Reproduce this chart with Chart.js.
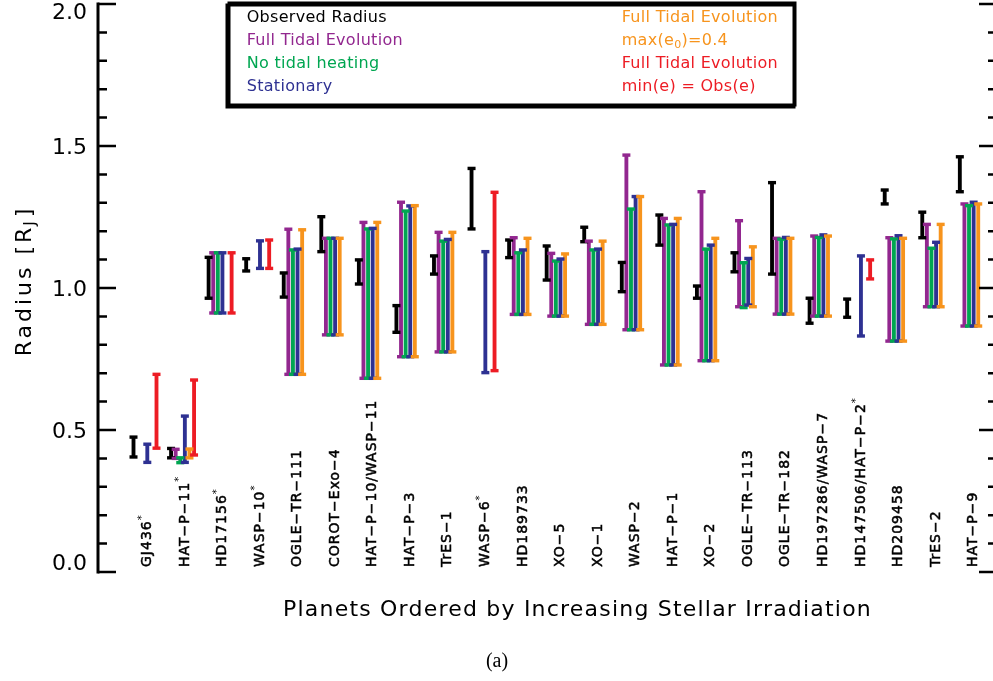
<!DOCTYPE html>
<html>
<head>
<meta charset="utf-8">
<script src="https://cdn.jsdelivr.net/npm/chart.js@4/dist/chart.umd.min.js"></script>
<style>
  html, body { margin: 0; padding: 0; background: #fff; }
  canvas { display: block; }
</style>
</head>
<body>
<canvas id="radiusChart" width="993" height="681"></canvas>
<script>
// Planets, left to right (a trailing * marks the starred names)
const planets = ['GJ436*', 'HAT-P-11*', 'HD17156*', 'WASP-10*', 'OGLE-TR-111', 'COROT-Exo-4',
  'HAT-P-10/WASP-11', 'HAT-P-3', 'TrES-1', 'WASP-6*', 'HD189733', 'XO-5', 'XO-1', 'WASP-2',
  'HAT-P-1', 'XO-2', 'OGLE-TR-113', 'OGLE-TR-182', 'HD197286/WASP-7', 'HD147506/HAT-P-2*',
  'HD209458', 'TrES-2', 'HAT-P-9'];

// radius ranges [low, high] in R_J, null = no bar
const observed = [[0.405, 0.475], [0.402, 0.435], [0.964, 1.108], [1.060, 1.103], [0.968, 1.053],
  [1.128, 1.251], [1.014, 1.099], [0.844, 0.938], [1.049, 1.113], [1.208, 1.421], [1.107, 1.169],
  [1.028, 1.148], [1.163, 1.214], [0.987, 1.090], [1.151, 1.257], [0.964, 1.007], [1.057, 1.124],
  [1.049, 1.371], [0.876, 0.964], [0.897, 0.961], [1.296, 1.345], [1.177, 1.267], [1.339, 1.462]];

const fullTidal = [null, [0.400, 0.432], [0.912, 1.124], null, [0.696, 1.207], [0.835, 1.175],
  [0.682, 1.231], [0.758, 1.302], [0.775, 1.196], null, [0.907, 1.177], [0.901, 1.122],
  [0.872, 1.165], [0.853, 1.468], [0.729, 1.245], [0.744, 1.339], [0.934, 1.237], [0.908, 1.175],
  [0.901, 1.183], null, [0.813, 1.177], [0.934, 1.224], [0.866, 1.296]];

const noHeating = [null, [0.385, 0.402], [0.912, 1.124], null, [0.696, 1.134], [0.835, 1.175],
  [0.682, 1.208], [0.758, 1.271], [0.775, 1.165], null, [0.907, 1.124], [0.901, 1.095],
  [0.872, 1.134], [0.853, 1.278], [0.729, 1.222], [0.744, 1.137], [0.931, 1.089], [0.908, 1.172],
  [0.901, 1.178], null, [0.813, 1.173], [0.934, 1.140], [0.866, 1.290]];

const stationary = [[0.386, 0.450], [0.386, 0.549], [0.912, 1.124], [1.069, 1.166], [0.696, 1.137],
  [0.835, 1.175], [0.682, 1.210], [0.758, 1.289], [0.775, 1.171], [0.702, 1.128], [0.907, 1.134],
  [0.901, 1.102], [0.872, 1.137], [0.853, 1.322], [0.729, 1.224], [0.744, 1.151], [0.940, 1.104],
  [0.908, 1.178], [0.901, 1.187], [0.831, 1.113], [0.813, 1.184], [0.934, 1.161], [0.866, 1.302]];

const maxEcc = [null, [0.402, 0.433], null, null, [0.696, 1.205], [0.835, 1.175], [0.682, 1.231],
  [0.758, 1.290], [0.775, 1.196], null, [0.907, 1.175], [0.901, 1.120], [0.872, 1.165],
  [0.853, 1.322], [0.729, 1.245], [0.744, 1.175], [0.934, 1.145], [0.908, 1.175], [0.901, 1.183],
  null, [0.813, 1.175], [0.934, 1.224], [0.866, 1.296]];

const minEcc = [[0.436, 0.696], [0.412, 0.676], [0.912, 1.124], [1.069, 1.169], null, null, null,
  null, null, [0.709, 1.337], null, null, null, null, null, null, null, null, null,
  [1.032, 1.099], null, null, null];

const yTicks = ['0.0', '0.5', '1.0', '1.5', '2.0'];

const colors = {
  black: '#000000', purple: '#92278F', green: '#00A651',
  blue: '#2E3192', orange: '#F7941D', red: '#ED1C24'
};

const FONT = '"DejaVu Sans", sans-serif';

function toPoints(arr) {
  return arr.map((r, i) => r ? { x: i, y: r } : null).filter(p => p);
}

function barSet(label, arr, color) {
  return {
    label: label,
    data: toPoints(arr),
    backgroundColor: color,
    borderWidth: 0,
    barThickness: 4.6,
    maxBarThickness: 3.2
  };
}

// caps, axes, labels and legend box
const decorations = {
  id: 'decorations',
  afterDatasetsDraw(chart) {
    const ctx = chart.ctx;
    ctx.save();
    chart.data.datasets.forEach((ds, i) => {
      const meta = chart.getDatasetMeta(i);
      ctx.fillStyle = ds.backgroundColor;
      meta.data.forEach(el => {
        ctx.fillRect(el.x - 4, el.y - 1.7, 8, 3.4);
        ctx.fillRect(el.x - 4, el.base - 1.7, 8, 3.4);
      });
    });
    ctx.restore();
  },
  afterDraw(chart) {
    const ctx = chart.ctx;
    const area = chart.chartArea;
    const x = chart.scales.x;
    const y = chart.scales.y;
    ctx.save();
    ctx.strokeStyle = '#000';
    ctx.fillStyle = '#000';

    // y axis line
    ctx.lineWidth = 3;
    ctx.beginPath();
    ctx.moveTo(area.left, y.getPixelForValue(2.0) - 1.5);
    ctx.lineTo(area.left, y.getPixelForValue(0) + 1.5);
    ctx.stroke();

    // ticks, inward on both sides
    const rightX = area.right + 4;
    ctx.lineWidth = 2.5;
    for (let k = 0; k <= 20; k++) {
      const v = k / 10;
      const py = y.getPixelForValue(v);
      const len = k % 5 === 0 ? 18 : 9;
      ctx.beginPath();
      ctx.moveTo(area.left, py);
      ctx.lineTo(area.left + len, py);
      ctx.moveTo(rightX, py);
      ctx.lineTo(rightX - len, py);
      ctx.stroke();
    }

    // y tick labels
    ctx.font = '22px ' + FONT;
    ctx.textAlign = 'right';
    ctx.textBaseline = 'middle';
    yTicks.forEach(t => {
      let py = y.getPixelForValue(parseFloat(t)) + 2.5;
      py = Math.min(Math.max(py, area.top + 9.5), area.bottom - 7.5);
      ctx.fillText(t, 87, py);
    });

    // planet names, vertical inside the plot
    planets.forEach((name, i) => {
      const star = name.endsWith('*');
      const text = (star ? name.slice(0, -1) : name).replace(/-/g, '\u2212');
      const px = x.getPixelForValue(i) + 2.3;
      ctx.save();
      ctx.translate(px, 567);
      ctx.rotate(-Math.PI / 2);
      ctx.font = '14px ' + FONT;
      ctx.letterSpacing = '1px';
      ctx.textAlign = 'left';
      ctx.textBaseline = 'middle';
      ctx.lineWidth = 0.5;
      ctx.strokeStyle = '#000';
      ctx.fillText(text, 0, 0);
      ctx.strokeText(text, 0, 0);
      if (star) {
        const w = ctx.measureText(text).width;
        ctx.font = '10px ' + FONT;
        ctx.fillText('*', w, -5);
      }
      ctx.restore();
    });

    // x title
    ctx.font = '22px ' + FONT;
    ctx.textAlign = 'center';
    ctx.textBaseline = 'alphabetic';
    const xTitle = 'Planets Ordered by Increasing Stellar Irradiation';
    ctx.letterSpacing = '0px';
    const w0 = ctx.measureText(xTitle).width;
    ctx.letterSpacing = ((589 - w0) / xTitle.length) + 'px';
    ctx.fillText(xTitle, 577.5, 616);
    ctx.letterSpacing = '0px';

    // y title
    ctx.save();
    ctx.translate(31, 281);
    ctx.rotate(-Math.PI / 2);
    ctx.letterSpacing = '3px';
    ctx.textAlign = 'left';
    ctx.font = '22px ' + FONT;
    const p1 = 'Radius [R';
    const p1w = ctx.measureText(p1).width;
    ctx.font = '15px ' + FONT;
    const p2w = ctx.measureText('J').width;
    ctx.font = '22px ' + FONT;
    const p3w = ctx.measureText(']').width;
    let ux = -(p1w + p2w + p3w) / 2;
    ctx.fillText(p1, ux, 0);
    ux += p1w;
    ctx.font = '15px ' + FONT;
    ctx.fillText('J', ux - 1, 4);
    ux += p2w;
    ctx.font = '22px ' + FONT;
    ctx.fillText(']', ux, 0);
    ctx.restore();

    // caption
    ctx.font = '20px "Liberation Serif", serif';
    ctx.textAlign = 'center';
    ctx.fillText('(a)', 497, 667);

    // legend box
    ctx.fillStyle = '#fff';
    ctx.fillRect(228, 3, 567, 103);
    ctx.lineWidth = 3;
    ctx.strokeStyle = '#000';
    ctx.strokeRect(227, 5, 567, 102);
    ctx.strokeRect(229, 3, 566, 102);

    ctx.font = '16px ' + FONT;
    ctx.textAlign = 'left';
    ctx.letterSpacing = '0.3px';
    const rows = [21.8, 44.8, 67.8, 90.8];
    const left = [['Observed Radius', colors.black], ['Full Tidal Evolution', colors.purple],
      ['No tidal heating', colors.green], ['Stationary', colors.blue]];
    left.forEach((r, k) => {
      ctx.fillStyle = r[1];
      ctx.fillText(r[0], 246.7, rows[k]);
    });
    ctx.fillStyle = colors.orange;
    ctx.fillText('Full Tidal Evolution', 621.7, rows[0]);
    let lx = 621.7;
    ctx.fillText('max(e', lx, rows[1]);
    lx += ctx.measureText('max(e').width;
    ctx.font = '11px ' + FONT;
    ctx.fillText('0', lx, rows[1] + 3);
    lx += ctx.measureText('0').width;
    ctx.font = '16px ' + FONT;
    ctx.fillText(')=0.4', lx, rows[1]);
    ctx.fillStyle = colors.red;
    ctx.fillText('Full Tidal Evolution', 621.7, rows[2]);
    ctx.fillText('min(e) = Obs(e)', 621.7, rows[3]);
    ctx.restore();
  }
};

const config = {
  type: 'bar',
  data: {
    datasets: [
      barSet('Observed Radius', observed, colors.black),
      barSet('Full Tidal Evolution', fullTidal, colors.purple),
      barSet('No tidal heating', noHeating, colors.green),
      barSet('Stationary', stationary, colors.blue),
      barSet('Full Tidal Evolution max(e0)=0.4', maxEcc, colors.orange),
      barSet('Full Tidal Evolution min(e) = Obs(e)', minEcc, colors.red)
    ]
  },
  options: {
    responsive: false,
    animation: false,
    layout: { padding: { left: 98, right: 0, top: 4, bottom: 109 } },
    plugins: {
      legend: { display: false },
      tooltip: { enabled: false }
    },
    scales: {
      x: { type: 'linear', min: -1.2513, max: 22.577, offset: false, stacked: false, display: false },
      y: { min: 0, max: 2.0, display: false }
    }
  },
  plugins: [decorations]
};

const radiusChart = new Chart(document.getElementById('radiusChart'), config);
</script>
</body>
</html>
